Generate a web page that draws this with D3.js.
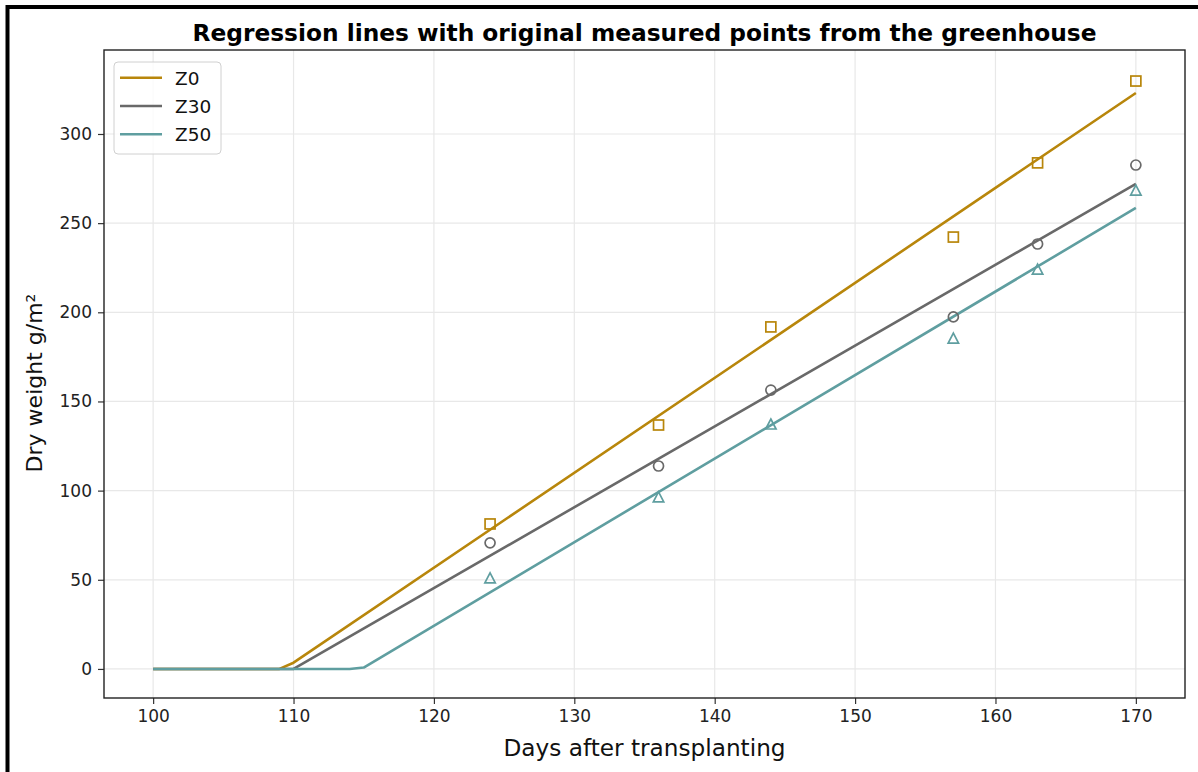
<!DOCTYPE html>
<html><head><meta charset="utf-8">
<script src="https://cdn.jsdelivr.net/npm/d3@7"></script>
<style>body{margin:0;background:#fff;} svg{display:block;font-family:"DejaVu Sans",sans-serif;}</style>
</head><body>
<svg id="c" width="1198" height="772"></svg>
<script>
const seriesNames = ["Z0", "Z30", "Z50"];
const seriesColors = ["#B8860B", "#696969", "#5F9EA0"];
const measuredDays = [124, 136, 144, 157, 163, 170];
const z0Points = [81.3, 136.8, 191.8, 242.2, 283.8, 329.7];
const z30Points = [70.7, 113.8, 156.4, 197.4, 238.3, 282.6];
const z50Points = [50.5, 95.9, 136.8, 185.0, 223.7, 268.0];
const z0LineX = [100, 109, 110, 170];
const z0LineY = [0, 0, 3.5, 323.0];
const z30LineX = [100, 110, 170];
const z30LineY = [0, 0, 272.0];
const z50LineX = [100, 114, 115, 170];
const z50LineY = [0, 0, 0.8, 258.5];
const xTicks = [100, 110, 120, 130, 140, 150, 160, 170];
const yTicks = [0, 50, 100, 150, 200, 250, 300];
const markerShapes = ["square", "circle", "triangle"];

const pointsSets = [z0Points, z30Points, z50Points];
const lineSets = [[z0LineX, z0LineY], [z30LineX, z30LineY], [z50LineX, z50LineY]];

const svg = d3.select("#c");
const L = 104, R = 1185, T = 50, B = 698;
const x = d3.scaleLinear().domain([96.5, 173.5]).range([L, R]);
const y = d3.scaleLinear().domain([-16.3, 347.1]).range([B, T]);

// outer frame (cropped figure border)
svg.append("rect").attr("x", 7.5).attr("y", 7).attr("width", 1300).attr("height", 900)
  .attr("fill", "none").attr("stroke", "#000").attr("stroke-width", 4);

// grid
const g = svg.append("g");
g.selectAll(".gx").data(xTicks).join("line")
  .attr("x1", d => x(d)).attr("x2", d => x(d)).attr("y1", T).attr("y2", B)
  .attr("stroke", "#e8e8e8").attr("stroke-width", 1.2);
g.selectAll(".gy").data(yTicks).join("line")
  .attr("y1", d => y(d)).attr("y2", d => y(d)).attr("x1", L).attr("x2", R)
  .attr("stroke", "#e8e8e8").attr("stroke-width", 1.2);

// axes
const xAxis = d3.axisBottom(x).tickValues(xTicks).tickSize(6).tickPadding(6).tickFormat(d3.format("d"));
const yAxis = d3.axisLeft(y).tickValues(yTicks).tickSize(6).tickPadding(6).tickFormat(d3.format("d"));
const ax = svg.append("g").attr("transform", `translate(0,${B})`).call(xAxis);
const ay = svg.append("g").attr("transform", `translate(${L},0)`).call(yAxis);
[ax, ay].forEach(a => {
  a.select(".domain").remove();
  a.selectAll(".tick line").attr("stroke", "#333").attr("stroke-width", 1.2);
  a.selectAll(".tick text").attr("fill", "#222").style("font-size", "17px").style("font-family", "DejaVu Sans");
});

// lines
const lineGen = d3.line().x(d => x(d[0])).y(d => y(d[1]));
lineSets.forEach((ls, i) => {
  const pts = ls[0].map((v, k) => [v, ls[1][k]]);
  svg.append("path").datum(pts).attr("d", lineGen).attr("fill", "none")
    .attr("stroke", seriesColors[i]).attr("stroke-width", 2.6).attr("stroke-linejoin", "round");
});

// markers
pointsSets.forEach((ps, i) => {
  const col = seriesColors[i];
  ps.forEach((v, k) => {
    const cx = x(measuredDays[k]), cy = y(v);
    if (markerShapes[i] === "square") {
      svg.append("rect").attr("x", cx - 5).attr("y", cy - 5).attr("width", 10).attr("height", 10)
        .attr("fill", "none").attr("stroke", col).attr("stroke-width", 1.7);
    } else if (markerShapes[i] === "circle") {
      svg.append("circle").attr("cx", cx).attr("cy", cy).attr("r", 5)
        .attr("fill", "none").attr("stroke", col).attr("stroke-width", 1.7);
    } else {
      svg.append("path").attr("d", `M${cx},${cy - 6}L${cx + 5.2},${cy + 4}L${cx - 5.2},${cy + 4}Z`)
        .attr("fill", "none").attr("stroke", col).attr("stroke-width", 1.7).attr("stroke-linejoin", "miter");
    }
  });
});

// spines
svg.append("rect").attr("x", L).attr("y", T).attr("width", R - L).attr("height", B - T)
  .attr("fill", "none").attr("stroke", "#222").attr("stroke-width", 1.4);

// title
svg.append("text").attr("x", (L + R) / 2).attr("y", 41).attr("text-anchor", "middle")
  .style("font-size", "23.3px").style("font-weight", "bold").attr("fill", "#000")
  .text("Regression lines with original measured points from the greenhouse");

// axis labels
svg.append("text").attr("x", (L + R) / 2).attr("y", 756).attr("text-anchor", "middle")
  .style("font-size", "23.2px").attr("fill", "#111").text("Days after transplanting");
svg.append("text").attr("transform", `translate(42,${(T + B) / 2 + 9}) rotate(-90)`).attr("text-anchor", "middle")
  .style("font-size", "22px").attr("fill", "#111").text("Dry weight g/m²");

// legend
const lg = svg.append("g");
lg.append("rect").attr("x", 114).attr("y", 62).attr("width", 107).attr("height", 92).attr("rx", 4)
  .attr("fill", "#fff").attr("fill-opacity", 0.8).attr("stroke", "#d0d0d0").attr("stroke-width", 1);
seriesNames.forEach((n, i) => {
  const yy = 77.7 + i * 28.3;
  lg.append("line").attr("x1", 120).attr("x2", 162).attr("y1", yy).attr("y2", yy)
    .attr("stroke", seriesColors[i]).attr("stroke-width", 2.6);
  lg.append("text").attr("x", 175).attr("y", yy + 6.8).style("font-size", "18.5px").attr("fill", "#111").text(n);
});
</script>
</body></html>
